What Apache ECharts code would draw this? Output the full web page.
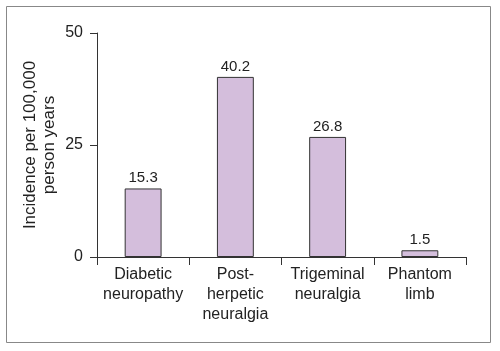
<!DOCTYPE html>
<html>
<head>
<meta charset="utf-8">
<script src="https://cdn.jsdelivr.net/npm/echarts@6/dist/echarts.min.js"></script>
<style>
html,body{margin:0;padding:0;background:#fff;}
#chart{width:500px;height:351px;}
</style>
</head>
<body>
<div id="chart"></div>
<script>
var categories = ['Diabetic\nneuropathy', 'Post-\nherpetic\nneuralgia', 'Trigeminal\nneuralgia', 'Phantom\nlimb'];
var incidence = [15.3, 40.2, 26.8, 1.5];
var yTicks = [0, 25, 50];

var dom = document.getElementById('chart');
var myChart = echarts.init(dom);

var axisColor = '#333';
var fontFam = 'Liberation Sans, Arial, sans-serif';
var option = {
    backgroundColor: '#fff',
    animation: false,
    graphic: [{
        type: 'rect',
        shape: {x: 6.5, y: 6.5, width: 484, height: 336},
        style: {fill: 'none', stroke: '#888', lineWidth: 1}
    }],
    grid: {
        left: 97,
        right: 34,
        top: 33,
        bottom: 94
    },
    xAxis: {
        type: 'category',
        data: categories,
        axisLine: {lineStyle: {color: axisColor, width: 1}},
        axisTick: {show: true, length: 8, lineStyle: {color: axisColor}},
        axisLabel: {
            color: '#222',
            fontSize: 16,
            fontFamily: fontFam,
            lineHeight: 20,
            margin: 8,
            interval: 0
        }
    },
    yAxis: {
        type: 'value',
        min: yTicks[0],
        max: yTicks[yTicks.length - 1],
        interval: 25,
        name: 'Incidence per 100,000\nperson years',
        nameLocation: 'middle',
        nameGap: 38,
        nameMoveOverlap: false,
        nameTextStyle: {
            color: '#222',
            fontSize: 17,
            fontFamily: fontFam,
            lineHeight: 19
        },
        axisLine: {show: true, lineStyle: {color: axisColor, width: 1}},
        axisTick: {show: true, length: 7, lineStyle: {color: axisColor}},
        splitLine: {show: false},
        axisLabel: {
            color: '#222',
            fontSize: 16,
            fontFamily: fontFam,
            margin: 14
        }
    },
    series: [{
        type: 'bar',
        data: incidence,
        barWidth: '40%',
        itemStyle: {
            color: '#d4bedc',
            borderColor: '#333',
            borderWidth: 1
        },
        label: {
            show: true,
            position: 'top',
            distance: 3,
            color: '#222',
            fontSize: 15,
            fontFamily: fontFam
        }
    }]
};

myChart.setOption(option);
</script>
</body>
</html>
